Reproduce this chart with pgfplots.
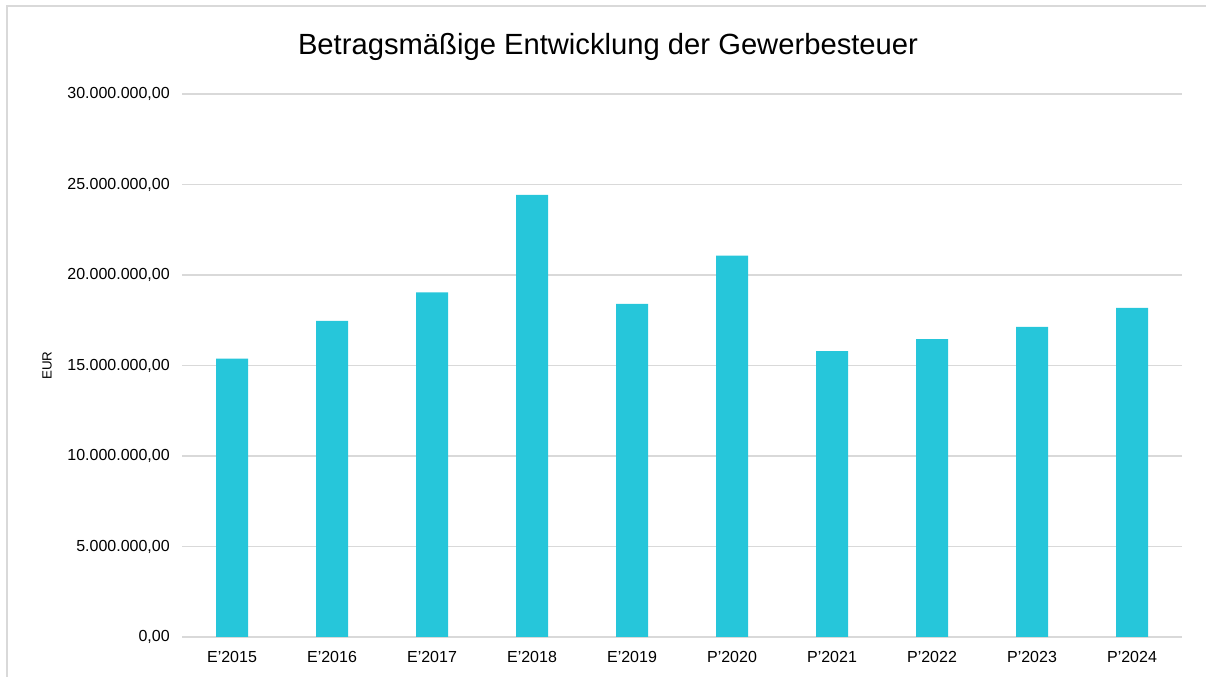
\documentclass[border=0pt]{standalone}
\usepackage{pgfplots}
\pgfplotsset{compat=1.18}
\usepackage{fontspec}
\setmainfont{Liberation Sans}
\definecolor{barc}{HTML}{26C6DA}
\definecolor{gridc}{HTML}{D9D9D9}
\begin{document}
\begin{tikzpicture}[x=0.75pt,y=0.75pt]
\path[use as bounding box] (0,0) rectangle (1206,677);
\draw[gridc, line width=1.2pt] (7,-5) -- (7,671) -- (1215,671);
\node[font=\fontsize{21.9}{26}\selectfont, anchor=base] at (608,677-55) {Betragsmäßige Entwicklung der Gewerbesteuer};
\begin{axis}[
  at={(136.5pt,30pt)}, anchor=south west,
  scale only axis, width=750pt, height=407.25pt,
  xmin=-0.5, xmax=9.5, ymin=0, ymax=30000000,
  ytick={0,5000000,10000000,15000000,20000000,25000000,30000000},
  xtick={0,...,9},
  xticklabels={E'2015,E'2016,E'2017,E'2018,E'2019,P'2020,P'2021,P'2022,P'2023,P'2024},
  scaled y ticks=false,
  y tick label style={/pgf/number format/fixed, /pgf/number format/fixed zerofill, /pgf/number format/precision=2, /pgf/number format/1000 sep={.}, /pgf/number format/use comma, /pgf/number format/assume math mode=true},
  tick label style={font=\fontsize{12}{14}\selectfont},
  yticklabel style={anchor=east, inner sep=0pt, xshift=-9pt},
  xticklabel style={anchor=north, inner sep=0pt, yshift=-10.5pt},
  major tick length=0pt,
  axis line style={draw=none},
  ymajorgrids, major grid style={gridc, line width=1pt},
  ylabel={EUR},
  ylabel style={at={(axis description cs:-0.135,0.5)}, anchor=center, font=\fontsize{10}{12}\selectfont},
  clip=false,
]
\addplot[ybar, bar width=24pt, fill=barc, draw=none] coordinates {
(0,15380000) (1,17460000) (2,19040000) (3,24420000) (4,18400000)
(5,21070000) (6,15800000) (7,16450000) (8,17130000) (9,18180000)};
\end{axis}
\end{tikzpicture}
\end{document}
